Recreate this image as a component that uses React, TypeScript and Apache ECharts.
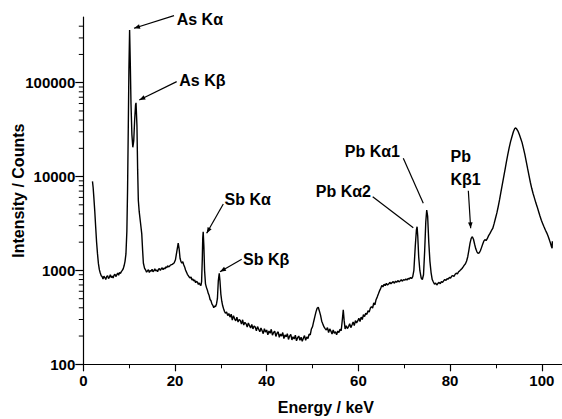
import React, { useEffect, useRef } from 'react';
import * as echarts from 'echarts';

// Spectrum: [energy keV, intensity counts]
const lowRegion: [number, number][] = [
  [2.0, 8900], [2.15, 7600], [2.3, 6000], [2.5, 4300], [2.7, 2900], [2.9, 2000], [3.1, 1500],
  [3.3, 1180], [3.5, 1020], [3.7, 940], [3.9, 880], [4.1, 860], [4.3, 810], [4.5, 870], [4.7, 840],
  [4.9, 800], [5.1, 860], [5.3, 880], [5.5, 820], [5.7, 850], [5.9, 900], [6.1, 840], [6.3, 870],
  [6.5, 830], [6.7, 890], [6.9, 910], [7.1, 860], [7.3, 900], [7.5, 940], [7.7, 890], [7.9, 950],
  [8.1, 930], [8.3, 970], [8.5, 1000], [8.7, 1040], [8.9, 1120], [9.1, 1250],
];

const arsenicPeaks: [number, number][] = [
  [9.3, 1500], [9.5, 2600], [9.65, 7000], [9.8, 30000], [9.95, 140000], [10.1, 365000],
  [10.25, 160000], [10.4, 60000], [10.6, 28000], [10.8, 20500], [11.0, 24000], [11.2, 40000],
  [11.4, 58000], [11.5, 61000], [11.7, 35000], [11.85, 12000], [12.0, 5600], [12.2, 4200],
  [12.45, 3300], [12.75, 2450], [12.95, 1600], [13.1, 1200], [13.35, 1060],
];

const midRegion: [number, number][] = [
  [13.6, 1010], [13.8, 960], [14.0, 990], [14.2, 1020], [14.4, 950], [14.6, 1000], [14.8, 980],
  [15.0, 1030], [15.2, 970], [15.4, 990], [15.6, 1040], [15.8, 990], [16.0, 1010], [16.2, 970],
  [16.4, 1030], [16.6, 1050], [16.8, 1000], [17.0, 1040], [17.2, 1070], [17.4, 1020], [17.6, 1060],
  [17.8, 1040], [18.0, 1090], [18.2, 1070], [18.4, 1120], [18.6, 1090], [18.8, 1110], [19.0, 1140],
  [19.4, 1160], [19.8, 1200], [20.1, 1300], [20.4, 1600], [20.7, 1950], [20.9, 1700], [21.1, 1350],
  [21.3, 1240], [21.5, 1200], [21.7, 1240], [21.9, 1150], [22.1, 1090], [22.3, 1010], [22.5, 960],
  [22.7, 910], [22.9, 880], [23.1, 850], [23.3, 830], [23.5, 850], [23.7, 790], [23.9, 810],
  [24.1, 770], [24.3, 790], [24.5, 740], [24.7, 765], [24.9, 750], [25.1, 710], [25.3, 735], [25.5, 700],
];

const antimonyPeaks: [number, number][] = [
  [25.65, 690], [25.8, 760], [25.95, 1300], [26.05, 2200], [26.15, 2580], [26.3, 1800], [26.45, 1000],
  [26.65, 720], [26.85, 660], [27.05, 620], [27.25, 570], [27.45, 540], [27.65, 490], [27.85, 475],
  [28.05, 440], [28.25, 425], [28.45, 400], [28.65, 418], [28.85, 412], [29.05, 440], [29.25, 500],
  [29.45, 780], [29.65, 930], [29.8, 780], [30.0, 560], [30.2, 470], [30.4, 420], [30.6, 390],
  [30.8, 365], [31.0, 350],
];

const valleyRegion: [number, number][] = [
  [31.25, 362], [31.5, 330], [31.75, 348], [32.0, 318], [32.25, 342], [32.5, 296], [32.75, 330],
  [33.0, 305], [33.25, 290], [33.5, 318], [33.75, 282], [34.0, 300], [34.25, 292], [34.5, 268],
  [34.75, 298], [35.0, 262], [35.25, 280], [35.5, 270], [35.75, 250], [36.0, 276], [36.25, 258],
  [36.5, 244], [36.75, 266], [37.0, 238], [37.25, 256], [37.5, 249], [37.75, 228], [38.0, 252],
  [38.25, 236], [38.5, 222], [38.75, 244], [39.0, 228], [39.25, 212], [39.5, 240], [39.75, 220],
  [40.0, 232], [40.25, 206], [40.5, 226], [40.75, 214], [41.0, 236], [41.25, 204], [41.5, 218],
  [41.75, 226], [42.0, 198], [42.25, 214], [42.5, 222], [42.75, 194], [43.0, 210], [43.25, 200],
  [43.5, 218], [43.75, 188], [44.0, 206], [44.25, 196], [44.5, 212], [44.75, 184], [45.0, 200],
  [45.25, 208], [45.5, 182], [45.75, 196], [46.0, 186], [46.25, 204], [46.5, 178], [46.75, 192],
  [47.0, 200], [47.25, 180], [47.5, 194], [47.75, 176], [48.0, 190], [48.25, 202], [48.5, 180],
  [48.75, 196], [49.0, 188],
];

const riseRegion: [number, number][] = [
  [49.25, 210], [49.5, 206], [49.75, 238], [50.0, 252], [50.25, 286], [50.5, 322], [50.75, 362],
  [51.0, 395], [51.25, 405], [51.5, 368], [51.75, 332], [52.0, 288], [52.25, 268], [52.5, 250],
  [52.75, 240], [53.0, 232], [53.25, 246], [53.5, 218], [53.75, 238], [54.0, 226], [54.25, 210],
  [54.5, 232], [54.75, 214], [55.0, 222], [55.25, 206], [55.5, 226], [55.75, 218], [56.0, 236],
  [56.25, 228], [56.5, 300], [56.7, 380], [56.9, 290], [57.1, 238], [57.35, 258], [57.6, 240],
  [57.85, 252], [58.1, 270], [58.35, 246], [58.6, 262], [58.85, 282], [59.1, 258], [59.35, 292],
  [59.6, 276], [59.85, 290], [60.1, 310], [60.35, 286], [60.6, 318], [60.85, 300], [61.1, 338],
  [61.35, 322], [61.6, 350], [61.85, 340], [62.1, 372], [62.35, 360], [62.6, 396], [62.85, 412],
  [63.1, 398], [63.35, 450], [63.6, 430], [63.85, 488], [64.1, 520], [64.35, 560], [64.6, 605],
  [64.85, 640], [65.1, 690], [65.35, 668], [65.6, 712], [65.85, 690], [66.1, 728], [66.35, 700],
  [66.6, 716], [66.85, 748], [67.1, 720], [67.35, 742], [67.6, 760], [67.85, 730], [68.1, 768],
  [68.35, 748], [68.6, 780], [68.85, 756], [69.1, 772], [69.35, 796], [69.6, 768], [69.85, 800],
  [70.1, 786], [70.35, 812], [70.6, 790], [70.85, 824], [71.1, 806], [71.35, 842], [71.6, 818],
  [71.85, 860],
];

const leadPeaks: [number, number][] = [
  [72.1, 1000], [72.4, 1800], [72.65, 2700], [72.8, 2920], [72.95, 2300], [73.15, 1400], [73.4, 1000],
  [73.7, 830], [73.95, 800], [74.2, 900], [74.45, 1600], [74.7, 3300], [74.9, 4400], [75.1, 3800],
  [75.35, 2000], [75.6, 1250], [75.85, 950], [76.1, 800], [76.35, 752], [76.6, 712], [76.85, 735],
  [77.1, 700], [77.35, 728], [77.6, 746], [77.85, 722], [78.1, 760], [78.35, 748], [78.6, 775],
  [78.85, 800], [79.1, 782], [79.35, 818], [79.6, 806], [79.85, 842], [80.1, 830], [80.35, 868],
  [80.6, 880], [80.85, 862], [81.1, 910], [81.35, 935], [81.6, 920], [81.85, 968], [82.1, 990],
  [82.35, 1020], [82.6, 1048], [82.85, 1090], [83.1, 1140], [83.35, 1180], [83.6, 1260],
  [83.85, 1400], [84.1, 1650], [84.35, 1950], [84.6, 2200], [84.85, 2290], [85.1, 2150],
  [85.35, 1900], [85.6, 1700], [85.85, 1580], [86.1, 1520], [86.35, 1540], [86.6, 1620],
  [86.85, 1750], [87.1, 1900], [87.35, 2050], [87.6, 2130], [87.85, 2080], [88.1, 2180],
];

const backscatterPeak: [number, number][] = [
  [88.4, 2350], [88.7, 2480], [89.0, 2650], [89.3, 2800], [89.6, 3150], [89.9, 3600], [90.2, 4100],
  [90.5, 4800], [90.8, 5700], [91.1, 6900], [91.4, 8300], [91.7, 10000], [92.0, 12000], [92.3, 14500],
  [92.6, 17300], [92.9, 20500], [93.2, 23700], [93.5, 26700], [93.8, 30000], [94.1, 32500],
  [94.3, 33000], [94.5, 32300], [94.8, 30500], [95.1, 28000], [95.4, 25500], [95.7, 23000],
  [96.0, 20000], [96.3, 17200], [96.6, 14500], [96.9, 12200], [97.2, 10300], [97.5, 8700],
  [97.8, 7500], [98.1, 6600], [98.4, 5900], [98.7, 5250], [99.0, 4750], [99.3, 4250], [99.6, 3800],
  [99.9, 3420], [100.2, 3150], [100.5, 2900], [100.8, 2680], [101.1, 2500], [101.4, 2300],
  [101.7, 2080], [101.9, 1950], [102.1, 1800], [102.25, 1720], [102.3, 2050],
];

const spectrum = [
  ...lowRegion, ...arsenicPeaks, ...midRegion, ...antimonyPeaks, ...valleyRegion,
  ...riseRegion, ...leadPeaks, ...backscatterPeak,
];

// Axis ticks
const xTickValues = [0, 20, 40, 60, 80, 100];
const yMinorTicks = [
  200, 300, 400, 500, 600, 700, 800, 900,
  2000, 3000, 4000, 5000, 6000, 7000, 8000, 9000,
  20000, 30000, 40000, 50000, 60000, 70000, 80000, 90000,
  200000, 300000, 400000,
];

// Axis titles
const xTitle = 'Energy / keV';
const xTitleCenterKeV = 52.9;
const yTitle = 'Intensity / Counts';

// Peak annotations: arrow tip, arrow tail and label anchor in data units
const annotationTexts = ['As Kα', 'As Kβ', 'Sb Kα', 'Sb Kβ', 'Pb Kα2', 'Pb Kα1', 'Pb\nKβ1'];
const annotationTips: [number, number][] = [
  [11.06, 380000], [12.21, 65500], [26.91, 2490], [29.81, 970], [71.97, 2855], [74.15, 5194], [84.49, 2812],
];
const annotationTails: [number, number][] = [
  [19.78, 518000], [20.37, 102600], [30.53, 5100], [34.55, 1315], [63.12, 6106], [69.79, 15670], [83.97, 7074],
];
const annotationLabels: [number, number][] = [
  [20.37, 466000], [20.94, 105700], [30.8, 5630], [34.83, 1292], [62.75, 6903], [69.07, 18290], [80.09, 12260],
];
const annotationAlign = ['left', 'left', 'left', 'left', 'right', 'right', 'left'];
const annotationHeads = [true, true, true, true, false, false, true];

const FONT = 'Liberation Sans';

export default function App() {
  const ref = useRef<HTMLDivElement>(null);

  useEffect(() => {
    const chart = echarts.init(ref.current!, null, { renderer: 'svg' });
    chart.setOption({
      animation: false,
      backgroundColor: '#fff',
      grid: {
        left: 83.3, top: 17.1, right: -25.65, bottom: 54.7,
        containLabel: false, outerBoundsMode: 'none',
      },
      xAxis: {
        type: 'value',
        min: 0,
        max: 110,
        interval: 20,
        axisLine: { lineStyle: { color: '#000', width: 1.2 } },
        axisTick: { length: 7, lineStyle: { color: '#000', width: 1.2 } },
        minorTick: { show: true, splitNumber: 2, length: 4, lineStyle: { color: '#000', width: 1 } },
        splitLine: { show: false },
        axisLabel: {
          fontFamily: FONT, fontWeight: 'bold', fontSize: 15, color: '#000', margin: 9,
          showMaxLabel: false,
          formatter: (v: number) => (xTickValues.includes(v) ? String(v) : ''),
        },
      },
      yAxis: {
        type: 'log',
        min: 100,
        max: 500000,
        axisLine: { show: true, lineStyle: { color: '#000', width: 1.2 } },
        axisTick: { show: true, length: 8, lineStyle: { color: '#000', width: 1.2 } },
        splitLine: { show: false },
        axisLabel: {
          fontFamily: FONT, fontWeight: 'bold', fontSize: 15, color: '#000', margin: 8,
          showMaxLabel: false,
          formatter: (v: number) => String(Math.round(v)),
        },
      },
      series: [
        {
          type: 'line',
          data: spectrum,
          showSymbol: false,
          symbol: 'none',
          lineStyle: { color: '#000', width: 1.4 },
          z: 3,
        },
      ],
    });

    const toPx = (p: [number, number]) => chart.convertToPixel({ gridIndex: 0 }, p) as number[];
    const elements: any[] = [];

    // minor ticks of the log axis
    yMinorTicks.forEach((v) => {
      const p = toPx([0, v]);
      elements.push({
        type: 'line',
        shape: { x1: p[0] - 4.5, y1: p[1], x2: p[0], y2: p[1] },
        style: { stroke: '#000', lineWidth: 1 },
        z: 10,
      });
    });

    // x axis title
    const xt = toPx([xTitleCenterKeV, 100]);
    elements.push({
      type: 'text',
      x: xt[0],
      y: xt[1] + 43,
      style: {
        text: xTitle, fill: '#000', fontFamily: FONT, fontWeight: 'bold', fontSize: 16,
        align: 'center', textAlign: 'center', verticalAlign: 'middle', textVerticalAlign: 'middle',
      },
      z: 10,
    });

    // y axis title
    const yBottom = toPx([0, 100]);
    const yTop = toPx([0, 500000]);
    elements.push({
      type: 'text',
      x: yBottom[0] - 64.5,
      y: (yBottom[1] + yTop[1]) / 2,
      rotation: Math.PI / 2,
      style: {
        text: yTitle, fill: '#000', fontFamily: FONT, fontWeight: 'bold', fontSize: 16,
        align: 'center', textAlign: 'center', verticalAlign: 'middle', textVerticalAlign: 'middle',
      },
      z: 10,
    });

    annotationTexts.forEach((text, i) => {
      const tip = toPx(annotationTips[i]);
      const tail = toPx(annotationTails[i]);
      const lab = toPx(annotationLabels[i]);
      elements.push({
        type: 'line',
        shape: { x1: tail[0], y1: tail[1], x2: tip[0], y2: tip[1] },
        style: { stroke: '#000', lineWidth: 1.2 },
        z: 10,
      });
      if (annotationHeads[i]) {
        const dx = tip[0] - tail[0];
        const dy = tip[1] - tail[1];
        const len = Math.hypot(dx, dy);
        const ux = dx / len;
        const uy = dy / len;
        const L = 6;
        const W = 2.3;
        elements.push({
          type: 'polygon',
          shape: {
            points: [
              [tip[0], tip[1]],
              [tip[0] - ux * L - uy * W, tip[1] - uy * L + ux * W],
              [tip[0] - ux * L + uy * W, tip[1] - uy * L - ux * W],
            ],
          },
          style: { fill: '#000' },
          z: 10,
        });
      }
      elements.push({
        type: 'text',
        x: lab[0],
        y: lab[1],
        style: {
          text,
          fill: '#000',
          fontFamily: FONT,
          fontWeight: 'bold',
          fontSize: 16,
          lineHeight: 23,
          align: annotationAlign[i],
          textAlign: annotationAlign[i],
          verticalAlign: 'middle',
          textVerticalAlign: 'middle',
        },
        z: 10,
      });
    });
    chart.setOption({ graphic: elements });

    return () => chart.dispose();
  }, []);

  return (
    <div
      ref={ref}
      style={{ position: 'fixed', left: 0, top: 0, width: 562, height: 419, background: '#fff' }}
    />
  );
}
